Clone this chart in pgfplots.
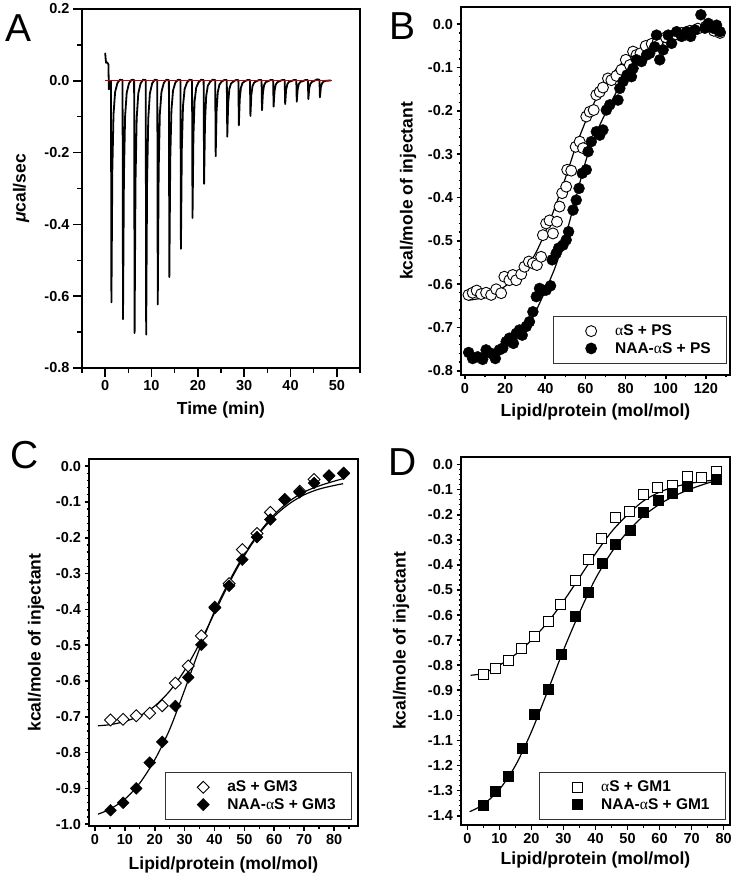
\documentclass[border=0pt]{standalone}
\usepackage{fontspec}
\setmainfont{Liberation Sans}
\newfontfamily\grk{Liberation Serif}
\usepackage{pgfplots}
\pgfplotsset{compat=1.18}
\newcommand{\al}{{\grk\mdseries\upshape α}}

\pgfplotsset{
 panel/.style={
  scale only axis, anchor=north west,
  axis x line*=bottom, axis y line*=left,
  axis line style={line width=2pt},
  every major tick/.append style={black, line width=1.7pt},
  every minor tick/.append style={black, line width=1.3pt},
  tick align=outside,
  major tick length=4.5pt, minor tick length=2.5pt,
  tick label style={font=\fontsize{14.5}{17}\selectfont\bfseries},
  /pgf/number format/assume math mode=true,
  yticklabel style={/pgf/number format/fixed, /pgf/number format/fixed zerofill, /pgf/number format/precision=1},
  xticklabel style={/pgf/number format/fixed, /pgf/number format/precision=0},
  every axis x label/.style={anchor=center, font=\fontsize{17.5}{20}\selectfont\bfseries},
  every axis y label/.style={anchor=center, rotate=90, font=\fontsize{17.5}{20}\selectfont\bfseries},
  legend cell align=left,
  legend image code/.code={\path[draw=none] (0pt,0pt) -- (46pt,0pt); \draw[##1, only marks] plot coordinates {(24pt,0pt)};},
  legend style={draw=black!80, line width=0.7pt, fill=white,
    font=\fontsize{15.5}{18}\selectfont\bfseries, inner xsep=14pt, inner ysep=7pt, row sep=1pt},
 },
 fit/.style={black, line width=1.2pt, smooth, no marks, forget plot},
}

\begin{document}
\begin{tikzpicture}
\useasboundingbox (0pt,0pt) rectangle (735pt,-882pt);

% ---------------- Panel A ----------------
\begin{axis}[panel, name=pA, at={(82pt,-9pt)}, width=278pt, height=359pt,
 xmin=-5, xmax=55, ymin=-0.8, ymax=0.2,
 xtick={0,10,20,30,40,50}, minor xtick={-5,5,15,25,35,45,55},
 ytick={-0.8,-0.6,-0.4,-0.2,0,0.2}, minor ytick={-0.7,-0.5,-0.3,-0.1,0.1},
 major tick length=9pt, minor tick length=5pt,
 xlabel={Time (min)}, ylabel={\textit{μ}cal/sec},
 xlabel style={at={([yshift=-42pt]axis description cs:0.5,0)}},
 ylabel style={at={([xshift=-61pt]axis description cs:0,0.5)}},
]
\addplot[black, line width=1.8pt, line join=round] coordinates {
(0,0.078) (0.1,0.062) (0.2,0.05) (0.3,0.052) (0.5,0.05) (0.7,0.046) (0.8,-0.024) (0.95,-0.012) (1.15,-0.002)
(1.25,0) (1.35,-0.617) (1.55,-0.247) (1.80,-0.093) (2.15,-0.031) (2.65,-0.006) (3.2,0.003)
(3.75,0.002) (3.85,-0.664) (4.05,-0.266) (4.30,-0.100) (4.65,-0.033) (5.15,-0.007) (5.7,0.003)
(6.25,0.002) (6.35,-0.703) (6.55,-0.281) (6.80,-0.105) (7.15,-0.035) (7.65,-0.007) (8.2,0.003)
(8.75,0.002) (8.85,-0.707) (9.05,-0.283) (9.30,-0.106) (9.65,-0.035) (10.15,-0.007) (10.7,0.003)
(11.25,0.002) (11.35,-0.623) (11.55,-0.249) (11.80,-0.093) (12.15,-0.031) (12.65,-0.006) (13.2,0.003)
(13.75,0.002) (13.85,-0.547) (14.05,-0.219) (14.30,-0.082) (14.65,-0.027) (15.15,-0.005) (15.7,0.003)
(16.25,0.002) (16.35,-0.468) (16.55,-0.187) (16.80,-0.070) (17.15,-0.023) (17.65,-0.005) (18.2,0.003)
(18.75,0.002) (18.85,-0.382) (19.05,-0.153) (19.30,-0.057) (19.65,-0.019) (20.15,-0.004) (20.7,0.003)
(21.25,0.002) (21.35,-0.287) (21.55,-0.115) (21.80,-0.043) (22.15,-0.014) (22.65,-0.003) (23.2,0.003)
(23.75,0.002) (23.85,-0.210) (24.05,-0.084) (24.30,-0.032) (24.65,-0.011) (25.15,-0.002) (25.7,0.002)
(26.25,0.002) (26.35,-0.156) (26.55,-0.062) (26.80,-0.023) (27.15,-0.008) (27.65,-0.002) (28.2,0.002)
(28.75,0.002) (28.85,-0.124) (29.05,-0.050) (29.30,-0.019) (29.65,-0.006) (30.15,-0.001) (30.7,0.002)
(31.25,0.002) (31.35,-0.098) (31.55,-0.039) (31.80,-0.015) (32.15,-0.005) (32.65,-0.001) (33.2,0.002)
(33.75,0.002) (33.85,-0.082) (34.05,-0.033) (34.30,-0.012) (34.65,-0.004) (35.15,-0.001) (35.7,0.002)
(36.25,0.002) (36.35,-0.072) (36.55,-0.029) (36.80,-0.011) (37.15,-0.004) (37.65,-0.001) (38.2,0.002)
(38.75,0.002) (38.85,-0.065) (39.05,-0.026) (39.30,-0.010) (39.65,-0.003) (40.15,-0.001) (40.7,0.002)
(41.25,0.002) (41.35,-0.058) (41.55,-0.023) (41.80,-0.009) (42.15,-0.003) (42.65,-0.001) (43.2,0.002)
(43.75,0.002) (43.85,-0.051) (44.05,-0.020) (44.30,-0.008) (44.65,-0.003) (45.15,0) (45.7,0.004)
(46.25,0.003) (46.35,-0.046) (46.55,-0.018) (46.80,-0.007) (47.15,-0.002) (47.65,0) (48.7,0.001)
};
\addplot[red!75!black, line width=0.6pt] coordinates {(0,0) (49,0)};
\end{axis}
\draw[line width=2pt] (pA.south west) rectangle (pA.north east);
\node[anchor=base west, font=\fontsize{39}{40}\selectfont] at (2pt,-42pt) {A};

% ---------------- Panel B ----------------
\begin{axis}[panel, name=pB, at={(461pt,-7pt)}, width=269pt, height=368pt,
 xmin=-2, xmax=132, ymin=-0.81, ymax=0.04,
 xtick={0,20,40,60,80,100,120}, minor xtick={10,30,50,70,90,110,130},
 ytick={-0.8,-0.7,-0.6,-0.5,-0.4,-0.3,-0.2,-0.1,0}, minor y tick num=4,
 xlabel={Lipid/protein (mol/mol)}, ylabel={kcal/mole of injectant},
 xlabel style={at={([yshift=-37pt]axis description cs:0.5,0)}},
 ylabel style={at={([xshift=-53pt]axis description cs:0,0.5)}},
 legend style={at={(axis description cs:0.989,0.030)}, anchor=south east},
]
\addplot[fit] coordinates {(2,-0.637) (10,-0.630) (20,-0.605) (30,-0.565) (35,-0.530) (40,-0.480) (45,-0.420) (50,-0.355) (55,-0.285) (60,-0.225) (65,-0.175) (70,-0.135) (75,-0.105) (80,-0.082) (90,-0.052) (100,-0.033) (110,-0.022) (120,-0.014) (127,-0.010)};
\addplot[fit] coordinates {(2,-0.765) (10,-0.760) (20,-0.745) (30,-0.705) (35,-0.665) (40,-0.615) (45,-0.560) (50,-0.490) (55,-0.405) (60,-0.318) (65,-0.255) (70,-0.205) (75,-0.160) (80,-0.120) (90,-0.070) (100,-0.040) (110,-0.025) (120,-0.015) (127,-0.010)};
\addplot[only marks, mark=*, mark size=5.5pt, mark options={fill=white, draw=black, line width=0.9pt}] coordinates {
(1.7,-0.625)(3.8,-0.620)(5.8,-0.615)(8.0,-0.623)(10.5,-0.620)(13.0,-0.625)(15.5,-0.612)(18.0,-0.621)(19.6,-0.583)(22.1,-0.591)(23.8,-0.579)(25.5,-0.591)(28.0,-0.577)(29.6,-0.560)(31.8,-0.548)(33.8,-0.552)(35.8,-0.556)(37.9,-0.537)(38.8,-0.487)(40.4,-0.460)(42.1,-0.453)(43.8,-0.483)(45.8,-0.456)(47.1,-0.421)(48.4,-0.390)(50.4,-0.375)(50.9,-0.336)(52.9,-0.338)(55.1,-0.283)(57.1,-0.271)(58.8,-0.286)(60.4,-0.213)(62.1,-0.202)(64.1,-0.198)(65.4,-0.163)(67.1,-0.156)(68.7,-0.146)(71.2,-0.125)(72.9,-0.129)(75.4,-0.119)(77.9,-0.105)(80.1,-0.082)(82.1,-0.094)(83.7,-0.063)(85.4,-0.071)(87.4,-0.067)(90.0,-0.050)(93.0,-0.045)(96.0,-0.040)(100.0,-0.030)(104.0,-0.025)(108.0,-0.020)(112.0,-0.015)(116.0,-0.010)(120.0,-0.005)(124.0,-0.015)(127.0,-0.020)};
\addlegendentry{\al S + PS}
\addplot[only marks, mark=*, mark size=5.5pt, mark options={fill=black, draw=black}] coordinates {
(1.8,-0.758)(3.8,-0.772)(6.3,-0.768)(8.8,-0.774)(10.5,-0.752)(13.0,-0.760)(15.1,-0.772)(17.1,-0.752)(18.8,-0.748)(20.5,-0.733)(22.1,-0.725)(24.1,-0.737)(25.5,-0.714)(27.1,-0.706)(28.5,-0.718)(30.5,-0.698)(32.1,-0.687)(33.8,-0.664)(35.5,-0.629)(37.1,-0.610)(38.8,-0.615)(40.4,-0.614)(42.6,-0.604)(43.4,-0.544)(45.4,-0.529)(46.6,-0.517)(48.8,-0.510)(50.4,-0.498)(51.6,-0.479)(53.8,-0.429)(55.4,-0.406)(56.8,-0.379)(58.4,-0.344)(60.4,-0.336)(61.3,-0.294)(62.9,-0.271)(65.4,-0.248)(67.1,-0.256)(68.7,-0.244)(70.4,-0.198)(72.1,-0.186)(76.2,-0.175)(77.1,-0.148)(78.7,-0.132)(80.7,-0.117)(82.9,-0.121)(83.7,-0.102)(85.4,-0.082)(87.9,-0.086)(90.4,-0.071)(92.0,-0.067)(94.5,-0.052)(97.0,-0.082)(98.7,-0.059)(95.4,-0.025)(101.2,-0.025)(102.9,-0.044)(105.4,-0.017)(107.9,-0.028)(110.4,-0.017)(112.4,-0.028)(114.5,-0.013)(117.5,0.022)(119.5,-0.009)(121.2,0.002)(123.7,-0.009)(125.3,-0.002)(127.0,-0.017)};
\addlegendentry{NAA-\al S + PS}
\end{axis}
\draw[line width=2pt] (pB.south west) rectangle (pB.north east);
\node[anchor=base west, font=\fontsize{39}{40}\selectfont] at (386pt,-40pt) {B};

% ---------------- Panel C ----------------
\begin{axis}[panel, name=pC, at={(89pt,-459pt)}, width=269pt, height=367pt,
 xmin=-2, xmax=88, ymin=-1.005, ymax=0.02,
 xtick={0,10,20,30,40,50,60,70,80}, minor xtick={5,15,25,35,45,55,65,75,85},
 ytick={-1,-0.9,-0.8,-0.7,-0.6,-0.5,-0.4,-0.3,-0.2,-0.1,0}, minor y tick num=4,
 xlabel={Lipid/protein (mol/mol)}, ylabel={kcal/mole of injectant},
 xlabel style={at={([yshift=-39pt]axis description cs:0.5,0)}},
 ylabel style={at={([xshift=-53pt]axis description cs:0,0.5)}},
 legend style={at={(axis description cs:0.978,0.016)}, anchor=south east},
]
\addplot[fit] coordinates {(1,-0.725) (5,-0.722) (10,-0.713) (15,-0.697) (20,-0.670) (25,-0.628) (30,-0.570) (35,-0.495) (40,-0.410) (45,-0.325) (50,-0.250) (55,-0.188) (60,-0.140) (65,-0.105) (70,-0.080) (75,-0.064) (80,-0.054) (83,-0.049)};
\addplot[fit] coordinates {(1,-0.972) (5,-0.958) (10,-0.930) (15,-0.885) (20,-0.820) (25,-0.735) (30,-0.625) (35,-0.510) (40,-0.405) (45,-0.320) (50,-0.245) (55,-0.185) (60,-0.135) (65,-0.098) (70,-0.072) (75,-0.055) (80,-0.042) (83,-0.035)};
\addplot[only marks, mark=square*, mark size=4.2pt, mark options={rotate=45, fill=white, draw=black, line width=0.9pt}] coordinates {
(5.2,-0.709)(9.4,-0.707)(13.8,-0.697)(18.3,-0.690)(22.5,-0.669)(26.9,-0.606)(31.2,-0.558)(35.6,-0.474)(40.1,-0.394)(44.9,-0.328)(49.3,-0.233)(54.2,-0.188)(58.7,-0.129)(63.5,-0.093)(68.5,-0.070)(73.3,-0.037)(78.3,-0.027)(83.2,-0.020)};
\addlegendentry{aS + GM3}
\addplot[only marks, mark=square*, mark size=4.2pt, mark options={rotate=45, fill=black, draw=black}] coordinates {
(5.2,-0.961)(9.4,-0.940)(13.8,-0.900)(18.3,-0.828)(22.5,-0.770)(26.9,-0.670)(31.2,-0.590)(35.6,-0.499)(40.1,-0.396)(44.9,-0.334)(49.3,-0.261)(54.2,-0.198)(58.7,-0.149)(63.5,-0.093)(68.5,-0.073)(73.3,-0.047)(78.3,-0.026)(83.2,-0.019)};
\addlegendentry{NAA-\al S + GM3}
\end{axis}
\draw[line width=2pt] (pC.south west) rectangle (pC.north east);
\node[anchor=base west, font=\fontsize{39}{40}\selectfont] at (7pt,-468pt) {C};

% ---------------- Panel D ----------------
\begin{axis}[panel, name=pD, at={(461pt,-457pt)}, width=269pt, height=368pt,
 xmin=-2, xmax=82, ymin=-1.437, ymax=0.03,
 xtick={0,10,20,30,40,50,60,70,80}, minor xtick={5,15,25,35,45,55,65,75},
 ytick={-1.4,-1.3,-1.2,-1.1,-1,-0.9,-0.8,-0.7,-0.6,-0.5,-0.4,-0.3,-0.2,-0.1,0}, minor y tick num=4,
 xlabel={Lipid/protein (mol/mol)}, ylabel={kcal/mole of injectant},
 xlabel style={at={([yshift=-35pt]axis description cs:0.5,0)}},
 ylabel style={at={([xshift=-60pt]axis description cs:0,0.5)}},
 legend style={at={(axis description cs:0.985,0.0136)}, anchor=south east},
]
\addplot[fit] coordinates {(1,-0.840) (5,-0.832) (10,-0.800) (15,-0.757) (20,-0.700) (25,-0.630) (30,-0.545) (35,-0.450) (40,-0.355) (45,-0.268) (50,-0.200) (55,-0.145) (60,-0.110) (65,-0.088) (70,-0.074) (75,-0.065) (78,-0.060)};
\addplot[fit] coordinates {(0.7,-1.384) (5,-1.355) (10,-1.295) (15,-1.200) (20,-1.065) (25,-0.905) (30,-0.740) (35,-0.590) (40,-0.455) (45,-0.350) (50,-0.268) (55,-0.205) (60,-0.158) (65,-0.123) (70,-0.096) (75,-0.074) (78,-0.063)};
\addplot[only marks, mark=square*, mark size=5pt, mark options={fill=white, draw=black, line width=1pt}] coordinates {
(4.9,-0.837)(8.8,-0.813)(12.8,-0.782)(17.0,-0.734)(21.0,-0.687)(25.2,-0.627)(29.2,-0.559)(33.6,-0.462)(37.8,-0.379)(42.0,-0.296)(46.3,-0.213)(50.7,-0.187)(55.0,-0.118)(59.5,-0.092)(64.0,-0.084)(68.6,-0.049)(73.0,-0.053)(77.7,-0.027)};
\addlegendentry{\al S + GM1}
\addplot[only marks, mark=square*, mark size=5pt, mark options={fill=black, draw=black}] coordinates {
(4.9,-1.359)(8.8,-1.304)(12.8,-1.241)(17.0,-1.129)(21.0,-0.995)(25.2,-0.897)(29.2,-0.758)(33.6,-0.604)(37.8,-0.510)(42.0,-0.392)(46.3,-0.319)(50.7,-0.260)(55.0,-0.191)(59.5,-0.143)(64.0,-0.116)(68.6,-0.088)(77.7,-0.058)};
\addlegendentry{NAA-\al S + GM1}
\end{axis}
\draw[line width=2pt] (pD.south west) rectangle (pD.north east);
\node[anchor=base west, font=\fontsize{39}{40}\selectfont] at (385pt,-475pt) {D};
\end{tikzpicture}
\end{document}
